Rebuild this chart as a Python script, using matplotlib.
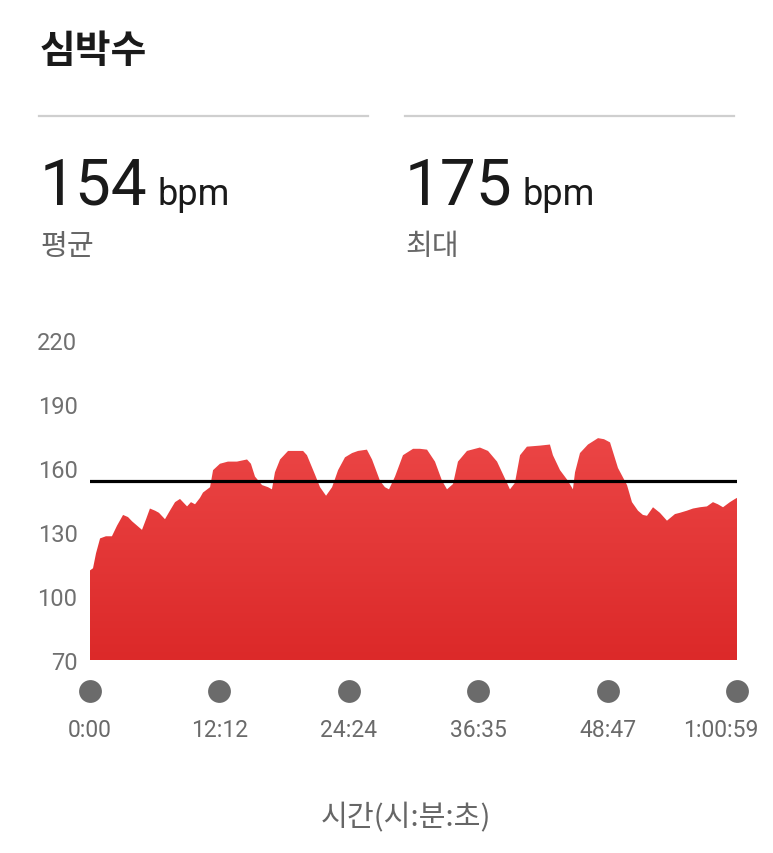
import numpy as np
import matplotlib
matplotlib.use("Agg")
import matplotlib.pyplot as plt
from matplotlib import transforms

plt.rcParams['font.family'] = ['Roboto', 'Noto Sans CJK KR', 'DejaVu Sans']

# heart rate trace (seconds, bpm)
seconds = [0, 17, 34, 57, 90, 124, 153, 187, 215, 238, 266, 294, 317, 339, 368,
           390, 424, 452, 481, 509, 549, 571, 594, 622, 639, 679, 696, 735, 780,
           831, 888, 910, 933, 973, 1007, 1029, 1046, 1075, 1120, 1171, 1205,
           1227, 1272, 1301, 1335, 1369, 1403, 1442, 1482, 1516, 1566, 1595,
           1640, 1668, 1691, 1725, 1770, 1827, 1866, 1906, 1951, 1991, 2019,
           2053, 2081, 2132, 2205, 2251, 2302, 2347, 2375, 2403, 2432, 2471,
           2545, 2601, 2618, 2658, 2703, 2731, 2743, 2771, 2816, 2873, 2907,
           2941, 2986, 3037, 3065, 3099, 3127, 3150, 3184, 3223, 3263, 3308,
           3336, 3376, 3410, 3449, 3489, 3523, 3551, 3580, 3619, 3648, 3659]
bpm = [112, 113, 120, 127, 128, 128, 133, 138, 137, 135, 133, 131, 136, 141, 140,
       139, 136, 140, 144, 145.5, 142, 144, 143, 146, 148.5, 151, 159, 162, 163,
       163, 164, 162, 156, 152, 151, 150, 158, 164, 168, 168, 168,
       166, 157, 151, 147, 151, 159, 165, 167, 168, 168.6, 164,
       154, 151, 150, 156, 166, 169, 169, 168.6, 163, 154, 150,
       152.5, 163, 168, 169.6, 168, 163, 155, 150, 153, 166, 170,
       170.5, 171, 166, 159, 154, 150, 158, 167, 171, 174, 173.5,
       172, 160, 152, 144, 140, 138, 137.6, 141.6, 139, 135.3, 138.4,
       139, 140, 141, 141.6, 142, 144, 143, 141.6, 144, 145.5, 146]

avg_bpm = 154
max_bpm = 175
y_ticks = [70, 100, 130, 160, 190, 220]
x_ticks = [0, 732, 1464, 2195, 2927, 3659]
x_labels = ["0:00", "12:12", "24:24", "36:35", "48:47", "1:00:59"]

W, H = 773, 854
fig = plt.figure(figsize=(W / 100, H / 100), dpi=100)
fig.patch.set_facecolor("white")

# header
kr = ['Noto Sans CJK KR', 'DejaVu Sans']
fig.text(40 / W, 1 - 51 / H, "심박수", family=kr, fontsize=28, fontweight="bold",
         color="#1a1a1a", va="center", ha="left")
for x0, x1 in [(39, 368), (405, 734)]:
    fig.add_artist(plt.Line2D([x0 / W, x1 / W], [1 - 117 / H, 1 - 117 / H],
                              color="#cfcfcf", lw=1.6))

for xl, val, lab in [(40, avg_bpm, "평균"), (405, max_bpm, "최대")]:
    t = fig.text(xl / W, 1 - 205 / H, str(val), fontsize=46, color="#1a1a1a",
                 va="baseline", ha="left")
    fig.canvas.draw()
    bb = t.get_window_extent()
    fig.text((bb.x1 + 10) / W, 1 - 205 / H, "bpm", fontsize=26, color="#1a1a1a",
             va="baseline", ha="left")
    fig.text(xl / W, 1 - 247 / H, lab, family=kr, fontsize=21, color="#666666",
             va="center", ha="left")

# chart
ax = fig.add_axes([90 / W, 1 - 661 / H, (737 - 90) / W, (661 - 341) / H])
ax.set_xlim(0, x_ticks[-1])
ax.set_ylim(70, 220)

poly = ax.fill_between(seconds, bpm, 70, color="none", lw=0)
grad = np.linspace(0, 1, 256).reshape(-1, 1)
cmap = matplotlib.colors.LinearSegmentedColormap.from_list(
    "hr", ["#dc2929", "#ec4747"])
im = ax.imshow(grad, aspect="auto", cmap=cmap, origin="lower",
               extent=[0, x_ticks[-1], 70, 180], zorder=1)
im.set_clip_path(poly.get_paths()[0], transform=ax.transData)

ax.axhline(avg_bpm, color="black", lw=2.3, zorder=3)

for s in ax.spines.values():
    s.set_visible(False)
ax.set_yticks(y_ticks)
ax.set_yticklabels([str(v) for v in y_ticks], fontsize=17, color="#707070")
ax.tick_params(axis="y", length=0, pad=9)

ax.set_xticks(x_ticks)
ax.set_xticklabels(x_labels, fontsize=16.5, color="#6a6a6a")
ax.tick_params(axis="x", length=0, pad=42)
last = ax.get_xticklabels()[-1]
last.set_transform(last.get_transform() +
                   transforms.ScaledTranslation(-0.16, 0, fig.dpi_scale_trans))

dot_tr = transforms.blended_transform_factory(ax.transData, ax.transAxes)
ax.scatter(x_ticks, [-31 / 320] * len(x_ticks), s=270, color="#6b6b6b",
           transform=dot_tr, clip_on=False, lw=0, zorder=4)

fig.text(406 / W, 1 - 818 / H, "시간(시:분:초)", family=kr, fontsize=21,
         color="#666666", va="center", ha="center")

fig.savefig("out.png", dpi=100, facecolor="white")
